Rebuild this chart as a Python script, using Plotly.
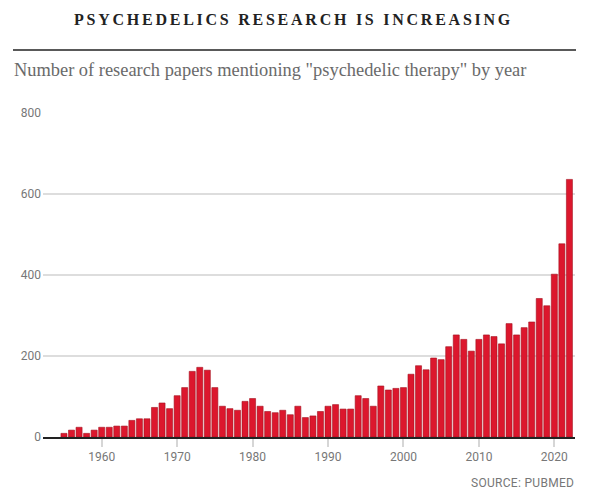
import plotly.graph_objects as go

years = list(range(1955, 2023))
papers = [9, 17, 24, 9, 17,
          24, 24, 27, 27, 41, 45, 45, 73, 84, 70,
          102, 122, 162, 172, 165, 122, 76, 70, 66, 88,
          95, 76, 63, 60, 66, 55, 76, 48, 52, 63,
          76, 80, 69, 69, 102, 95, 76, 126, 116, 120,
          122, 155, 176, 166, 195, 191, 223, 252, 241, 212,
          241, 252, 248, 230, 280, 252, 270, 284, 342, 324,
          402, 477, 636]
x_ticks = [1960, 1970, 1980, 1990, 2000, 2010, 2020]
y_ticks = [0, 200, 400, 600, 800]

title_text = "PSYCHEDELICS RESEARCH IS INCREASING"
subtitle_text = 'Number of research papers mentioning "psychedelic therapy" by year'
source_text = "SOURCE: PUBMED"

# page body has an 8px margin; figure coordinates are offset by it
OFF = 8
W, H = 589 - OFF, 504 - OFF
L, R, T, B = 43 - OFF, 14, 113 - OFF, 67
ph = H - T - B
pw = W - L - R

def py(pix):
    return (H - B - (pix - OFF)) / ph

def px(pix):
    return (pix - OFF - L) / pw

fig = go.Figure()
fig.add_trace(go.Bar(
    x=years, y=papers,
    marker=dict(color="#dc172d", line=dict(color="#a3101f", width=0.6)),
    width=0.8,
    hoverinfo="x+y",
))

tick_font = dict(family="Roboto, 'Liberation Sans Narrow', sans-serif", size=12, color="#777")

fig.update_layout(
    width=W, height=H,
    margin=dict(l=L, r=R, t=T, b=B),
    paper_bgcolor="white", plot_bgcolor="white",
    showlegend=False,
    title=dict(
        text='<span style="letter-spacing:2.75px"><b>' + title_text + '</b></span>',
        x=(293.5 - OFF) / W, xref="container", xanchor="center",
        y=1 - (19 - OFF) / H, yref="container", yanchor="middle",
        font=dict(family="'Liberation Serif', 'DejaVu Serif', serif", size=16, color="#222"),
    ),
    xaxis=dict(
        range=[1952.22, 2022.74],
        tickmode="array", tickvals=x_ticks, ticktext=[str(v) for v in x_ticks],
        showgrid=False, zeroline=False,
        showline=True, linecolor="#222", linewidth=2,
        ticks="outside", ticklen=8, tickwidth=1.5, tickcolor="#d6d6d6",
        tickfont=tick_font,
    ),
    yaxis=dict(
        range=[0, 800],
        tickmode="array", tickvals=y_ticks, ticktext=[str(v) for v in y_ticks],
        showgrid=True, gridcolor="#dddddd", gridwidth=1.5,
        zeroline=False, showline=False, ticks="",
        tickfont=tick_font,
        ticklabelstandoff=1,
    ),
    bargap=0.2,
)

fig.add_annotation(
    text=subtitle_text, xref="paper", yref="paper",
    x=px(12), y=py(70), xanchor="left", yanchor="middle", showarrow=False,
    font=dict(family="'Liberation Serif', 'DejaVu Serif', serif", size=18.4, color="#6a6a6a"),
)
fig.add_annotation(
    text='<span style="letter-spacing:0.3px">' + source_text + '</span>',
    xref="paper", yref="paper",
    x=px(576), y=py(483), xanchor="right", yanchor="middle", showarrow=False,
    font=dict(family="Roboto, 'Liberation Sans Narrow', sans-serif", size=12, color="#777"),
)
fig.add_shape(
    type="line", xref="paper", yref="paper",
    x0=px(13), x1=px(576), y0=py(50), y1=py(50),
    line=dict(color="#222", width=1.5),
)

fig.write_html("out.html")
